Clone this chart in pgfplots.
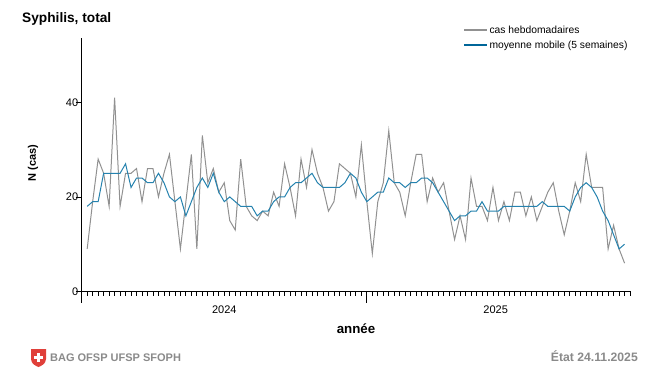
\documentclass[border=0pt]{standalone}
\usepackage{pgfplots}
\pgfplotsset{compat=1.18}
\usepackage{fontspec}
\setmainfont{Liberation Sans}
\definecolor{cgray}{HTML}{919191}
\definecolor{cblue}{HTML}{2582AE}
\definecolor{clegblue}{HTML}{006699}
\definecolor{ctxt}{HTML}{8A8A8A}
\definecolor{cred}{HTML}{E0403A}
\begin{document}
\begin{tikzpicture}[x=1pt,y=1pt]
\path (0,0) rectangle (650,368);
\begin{axis}[
  at={(81.7pt,76.5pt)}, anchor=origin,
  scale only axis, width=549pt, height=253pt,
  xmin=0, xmax=100.12, ymin=0, ymax=53.5,
  axis lines=left, axis line style={line width=1pt,-},
  clip=false,
  xtick={0,52}, xticklabels={},
  minor xtick={1,2,...,100},
  ytick={0,20,40},
  major tick length=0pt,
  every tick/.style={black,line width=0.8pt},
  tick label style={font=\fontsize{11}{12}\selectfont},
  /pgf/number format/assume math mode=true,
  x tick style={/pgfplots/major tick length=11pt,/pgfplots/minor tick length=4pt},
  y tick style={/pgfplots/major tick length=6pt},
  xtick pos=bottom, ytick pos=left,
  tick align=outside,
  legend image post style={xscale=1.3},
  legend style={draw=none, fill=none, at={(551pt,270pt)}, anchor=north east,
    font=\fontsize{10.3}{12}\selectfont, row sep=2pt},
  legend cell align=left,
]
\addplot[cgray, line width=1pt, forget plot] coordinates {
(1,9)(2,19)(3,28)(4,25)(5,18)(6,41)(7,18)(8,25)(9,25)(10,26)
(11,19)(12,26)(13,26)(14,20)(15,25)(16,29)(17,19)(18,9)(19,19)(20,29)
(21,9)(22,33)(23,23)(24,26)(25,21)(26,23)(27,15)(28,13)(29,28)(30,18)
(31,16)(32,15)(33,17)(34,16)(35,21)(36,18)(37,27)(38,22)(39,16)(40,28)
(41,22)(42,30)(43,25)(44,22)(45,17)(46,19)(47,27)(48,26)(49,25)(50,20)
(51,31)(52,19)(53,8)(54,19)(55,23)(56,34)(57,23)(58,21)(59,16)(60,23)
(61,29)(62,29)(63,19)(64,24)(65,21)(66,23)(67,17)(68,11)(69,16)(70,11)
(71,24)(72,18)(73,18)(74,15)(75,22)(76,15)(77,19)(78,15)(79,21)(80,21)
(81,16)(82,20)(83,15)(84,18)(85,21)(86,23)(87,17)(88,12)(89,17)(90,23)
(91,19)(92,29)(93,22)(94,22)(95,22)(96,9)(97,14)(98,9)(99,6)};
\addplot[cblue, line width=1pt, forget plot] coordinates {
(1,18)(2,19)(3,19)(4,25)(5,25)(6,25)(7,25)(8,27)(9,22)(10,24)
(11,24)(12,23)(13,23)(14,25)(15,23)(16,20)(17,19)(18,20)(19,16)(20,19)
(21,22)(22,24)(23,22)(24,25)(25,21)(26,19)(27,20)(28,19)(29,18)(30,18)
(31,18)(32,16)(33,17)(34,17)(35,19)(36,20)(37,20)(38,22)(39,23)(40,23)
(41,24)(42,25)(43,23)(44,22)(45,22)(46,22)(47,22)(48,23)(49,25)(50,24)
(51,21)(52,19)(53,20)(54,21)(55,21)(56,24)(57,23)(58,23)(59,22)(60,23)
(61,23)(62,24)(63,24)(64,23)(65,21)(66,19)(67,17)(68,15)(69,16)(70,16)
(71,17)(72,17)(73,19)(74,17)(75,17)(76,17)(77,18)(78,18)(79,18)(80,18)
(81,18)(82,18)(83,18)(84,19)(85,18)(86,18)(87,18)(88,18)(89,17)(90,20)
(91,22)(92,23)(93,22)(94,20)(95,17)(96,15)(97,12)(98,9)(99,10)};
\addlegendimage{cgray, line width=1.8pt}
\addlegendentry{cas hebdomadaires}
\addlegendimage{clegblue, line width=1.8pt}
\addlegendentry{moyenne mobile (5 semaines)}
\node[font=\fontsize{11}{12}\selectfont] at (axis cs:26,0) [yshift=-18pt] {2024};
\node[font=\fontsize{11}{12}\selectfont] at (axis cs:75.5,0) [yshift=-18pt] {2025};
\end{axis}
\node[anchor=base west, inner sep=0pt, font=\bfseries\fontsize{13.7}{15}\selectfont] at (22,345) {Syphilis, total};
\node[anchor=center, rotate=90, font=\bfseries\fontsize{11}{12}\selectfont] at (33,205) {N (cas)};
\node[anchor=center, font=\bfseries\fontsize{13.3}{15}\selectfont] at (356,39) {année};
\node[anchor=base west, text=ctxt, font=\bfseries\fontsize{11}{13}\selectfont, inner sep=0pt] at (50,7) {BAG OFSP UFSP SFOPH};
\node[anchor=base east, text=ctxt, font=\bfseries\fontsize{12.2}{13}\selectfont, inner sep=0pt] at (638,7) {État 24.11.2025};
\fill[cred] (31,19) -- (46,19) -- (46,9) .. controls (46,4) and (41,2) .. (38.5,1) .. controls (36,2) and (31,4) .. (31,9) -- cycle;
\fill[white] (37,6.5) rectangle (40,15.5);
\fill[white] (34,9.5) rectangle (43,12.5);
\end{tikzpicture}
\end{document}
